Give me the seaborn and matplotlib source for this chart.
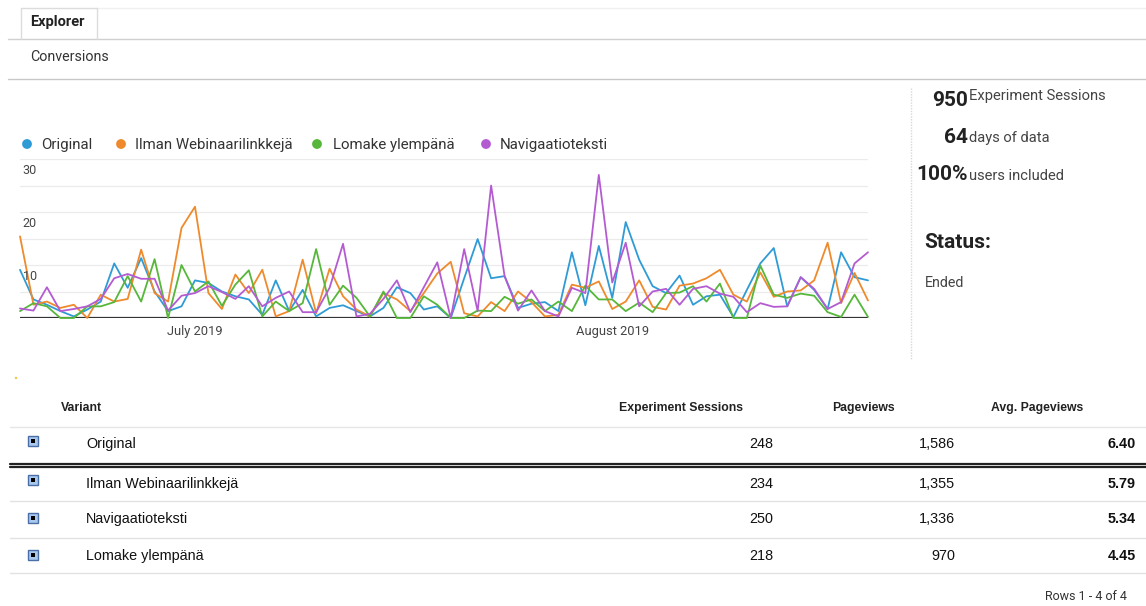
import matplotlib
matplotlib.use("Agg")
import matplotlib.pyplot as plt
import matplotlib.dates as mdates
from matplotlib.patches import Rectangle
import numpy as np
import pandas as pd
import seaborn as sns

# ---- data -------------------------------------------------------------
dates = pd.date_range("2019-06-18", periods=64, freq="D")

original = [9.1, 3.5, 2.5, 1.3, 0.3, 1.6, 3.1, 10.3, 5.7, 11.3, 5.0, 1.3, 2.2, 7.1, 6.6, 5.0,
            4.1, 3.5, 0.6, 7.1, 1.3, 5.3, 0.3, 1.9, 2.4, 1.3, 0.3, 1.9, 5.8, 4.7, 1.6, 2.2,
            0.0, 7.5, 14.9, 7.5, 7.9, 1.9, 2.7, 3.0, 1.3, 12.4, 2.4, 13.6, 3.8, 18.1, 11.0,
            6.0, 4.7, 8.0, 2.5, 4.1, 4.4, 0.2, 5.3, 10.3, 13.2, 2.2, 7.7, 5.3, 1.7, 12.4, 7.7, 7.1]
ilman = [15.4, 2.5, 3.1, 1.9, 2.5, 0.0, 4.4, 3.1, 3.6, 12.9, 4.7, 3.1, 17.0, 21.0, 4.7, 1.7,
         8.2, 4.7, 9.1, 0.3, 1.3, 11.0, 0.9, 9.3, 4.1, 1.6, 0.3, 4.7, 3.5, 1.3, 4.7, 8.4,
         10.6, 0.9, 0.3, 3.0, 1.3, 5.0, 3.0, 0.3, 0.6, 6.3, 5.7, 6.9, 1.7, 3.1, 7.1,
         2.1, 1.6, 6.1, 6.5, 7.5, 9.1, 4.4, 3.1, 8.6, 4.0, 5.0, 5.2, 7.1, 14.2, 2.8, 8.5, 3.3]
lomake = [1.3, 2.8, 2.2, 0.0, 0.0, 2.2, 2.2, 3.0, 7.9, 3.1, 11.1, 0.0, 10.0, 5.0, 6.9, 2.3,
          6.3, 9.0, 0.3, 3.1, 1.3, 2.8, 13.0, 2.5, 6.1, 3.8, 0.3, 5.0, 0.0, 0.0, 4.1, 2.5,
          0.0, 0.0, 1.4, 1.3, 4.0, 2.7, 3.5, 1.3, 3.1, 1.3, 6.1, 3.5, 3.5, 1.3, 2.9,
          1.1, 4.7, 4.8, 6.0, 3.1, 6.5, 0.0, 0.0, 9.9, 4.4, 3.8, 4.6, 4.2, 1.1, 0.2, 4.4, 0.2]
navigaatio = [1.8, 1.4, 5.8, 1.3, 1.7, 2.2, 3.6, 7.5, 8.3, 7.4, 7.4, 1.4, 4.2, 4.7, 6.0, 4.9,
              3.6, 6.0, 2.2, 3.8, 5.0, 1.1, 1.1, 5.7, 14.0, 0.3, 0.8, 3.6, 7.1, 1.1, 5.8, 10.5,
              0.0, 13.0, 1.3, 25.0, 7.9, 1.4, 5.2, 1.3, 0.3, 5.7, 4.7, 27.0, 6.7, 14.2, 2.2,
              5.0, 5.5, 2.5, 5.5, 6.0, 4.6, 4.0, 1.1, 2.8, 2.1, 2.2, 7.7, 5.5, 1.7, 3.0, 10.3, 12.4]

variants = ["Original", "Ilman Webinaarilinkkejä", "Lomake ylempänä", "Navigaatioteksti"]
series = [original, ilman, lomake, navigaatio]
colors = ["#2f9bd6", "#ef8a2c", "#56b73a", "#b55bd2"]

month_ticks = ["2019-07-01", "2019-08-01"]
month_labels = ["July 2019", "August 2019"]
y_labels = [10, 20, 30]

table_variants = ["Original", "Ilman Webinaarilinkkejä", "Navigaatioteksti", "Lomake ylempänä"]
sessions = [248, 234, 250, 218]
pageviews = [1586, 1355, 1336, 970]

days_of_data = len(dates)
users_included = "100%"

df = pd.DataFrame({
    "date": np.tile(dates, len(variants)),
    "value": np.concatenate(series),
    "variant": np.repeat(variants, len(dates)),
})

# ---- figure -----------------------------------------------------------
sns.set_style("white")
plt.rcParams["font.family"] = ["Roboto", "DejaVu Sans"]

W, H = 1146, 606
fig = plt.figure(figsize=(W / 100, H / 100), dpi=100)


def fbox(x0, y0, x1, y1):
    return [x0 / W, 1 - y1 / H, (x1 - x0) / W, (y1 - y0) / H]


# page overlay in pixel coordinates
ov = fig.add_axes([0, 0, 1, 1])
ov.set_xlim(0, W)
ov.set_ylim(H, 0)
ov.axis("off")

# tab header
line_c = "#d0d0d0"
ov.plot([8, 1146], [38.5, 38.5], color=line_c, lw=1)
ov.plot([21, 97], [7.5, 7.5], color="#dcdcdc", lw=1)
ov.plot([97, 1146], [7.5, 7.5], color="#f0f0f0", lw=1)
ov.plot([21, 21], [7.5, 38.5], color="#dcdcdc", lw=1)
ov.plot([97, 97], [7.5, 38.5], color="#dcdcdc", lw=1)
ov.text(30, 22, "Explorer", fontsize=10.5, fontweight="bold", color="#222", va="center")
ov.text(30, 57, "Conversions", fontsize=10.3, color="#333", va="center")
ov.plot([8, 1146], [78.5, 78.5], color="#c8c8c8", lw=1)

# legend
leg_dot_x = [27, 121, 317, 486]
leg_txt_x = [41, 135, 333, 500]
for name, c, dx, tx in zip(variants, colors, leg_dot_x, leg_txt_x):
    ov.scatter([dx], [144], s=50, color=c, edgecolors="none")
    ov.text(tx, 144.5, name, fontsize=10.8, color="#333", va="center")

# stats panel
ov.plot([911, 911], [88, 360], color="#d8d8d8", lw=1, ls=(0, (1, 1)))
total_sessions = sum(sessions)
stat_values = [str(total_sessions), str(days_of_data), users_included]
stat_labels = ["Experiment Sessions", "days of data", "users included"]
num_base = [106, 143, 180]
lab_base = [100, 142, 180]
for v, lab, nb, lb in zip(stat_values, stat_labels, num_base, lab_base):
    ov.text(968, nb, v, fontsize=15, fontweight="bold", color="#222", ha="right", va="baseline")
    ov.text(969, lb, lab, fontsize=10.6, color="#444", ha="left", va="baseline")
ov.text(924, 248, "Status:", fontsize=15, fontweight="bold", color="#222", va="baseline")
ov.text(925, 287, "Ended", fontsize=10.3, color="#444", va="baseline")
ov.scatter([16], [378], s=3, color="#f5c542", edgecolors="none")

# ---- line chart -------------------------------------------------------
ax = fig.add_axes(fbox(20, 159, 868, 318))
ax.patch.set_alpha(0)
sns.lineplot(data=df, x="date", y="value", hue="variant", hue_order=variants,
             palette=colors, linewidth=1.3, errorbar=None, legend=False, ax=ax)
for ln in ax.lines:
    ln.set_clip_on(False)
ax.set_xlim(dates[0], dates[-1])
ax.set_ylim(0, 30)
ax.set_yticks(range(0, 31, 5))
ax.set_yticklabels([])
ax.grid(axis="y", color="#ebebeb", lw=0.9)
ax.set_axisbelow(True)
ax.set_xticks([mdates.date2num(pd.Timestamp(d)) for d in month_ticks])
ax.set_xticklabels(month_labels)
ax.tick_params(axis="x", length=0, pad=5, labelsize=9.3, labelcolor="#444")
ax.tick_params(axis="y", length=0)
ax.set_xlabel("")
ax.set_ylabel("")
for s in ax.spines.values():
    s.set_visible(False)
ax.axhline(0, color="#333333", lw=1.6, zorder=1)
for v in y_labels:
    ax.annotate(str(v), xy=(0, v), xycoords=("axes fraction", "data"),
                xytext=(2, -3.5), textcoords="offset points",
                ha="left", va="top", fontsize=9, color="#444")

# ---- variant table ----------------------------------------------------
tf = ["Liberation Sans", "DejaVu Sans"]
hdr_y = 408
hdr_fs = 8.8
ov.text(61, hdr_y, "Variant", fontsize=hdr_fs, fontweight="bold", family=tf, color="#222", va="center")
ov.text(681, hdr_y, "Experiment Sessions", fontsize=hdr_fs, fontweight="bold", family=tf,
        color="#222", va="center", ha="center")
ov.text(863, hdr_y, "Pageviews", fontsize=hdr_fs, fontweight="bold", family=tf,
        color="#222", va="center", ha="center")
ov.text(1037, hdr_y, "Avg. Pageviews", fontsize=hdr_fs, fontweight="bold", family=tf,
        color="#222", va="center", ha="center")
ov.plot([10, 1146], [427, 427], color="#e6e6e6", lw=1)

row_y = [444, 484, 519, 556]
box_y = [441, 480, 517.5, 555]
for name, ses, pv, ry, by in zip(table_variants, sessions, pageviews, row_y, box_y):
    ov.add_patch(Rectangle((27.5, by - 5), 10, 10, facecolor="#a9c8ee", edgecolor="#4a6ea8", lw=1))
    ov.add_patch(Rectangle((30.5, by - 2), 4, 4, facecolor="#000", edgecolor="none"))
    ov.text(86, ry, name, fontsize=10.4, family=tf, color="#111", va="center")
    ov.text(773, ry, f"{ses}", fontsize=10.4, family=tf, color="#111", va="center", ha="right")
    ov.text(955, ry, f"{pv:,}", fontsize=10.4, family=tf, color="#111", va="center", ha="right")
    ov.text(1136, ry, f"{pv / ses:.2f}", fontsize=10.4, family=tf, fontweight="bold",
            color="#111", va="center", ha="right")

ov.plot([10, 1146], [463.5, 463.5], color="#222", lw=1.6)
ov.plot([10, 1146], [467, 467], color="#222", lw=1.6)
for ly in [501, 538, 573]:
    ov.plot([10, 1146], [ly, ly], color="#e2e2e2", lw=1)
ov.text(1127, 597, "Rows 1 - 4 of 4", fontsize=9, color="#333", ha="right", va="center")

fig.savefig("out.png", dpi=100)
